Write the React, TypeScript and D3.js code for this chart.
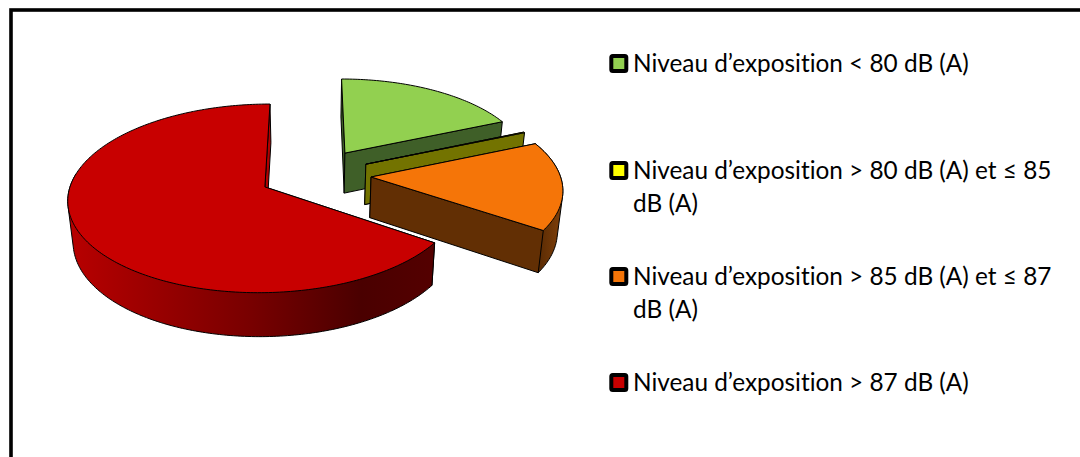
import React from "react";
import * as d3 from "d3";

const categories = [
  ["Niveau d’exposition < 80 dB (A)"],
  ["Niveau d’exposition > 80 dB (A) et ≤ 85", "dB (A)"],
  ["Niveau d’exposition > 85 dB (A) et ≤ 87", "dB (A)"],
  ["Niveau d’exposition > 87 dB (A)"],
];
const shares = [18.5, 0.12, 15.85, 65.53];
const radiusFactors = [0.98, 0.975, 0.995, 1.01];
const topColors = ["#92d050", "#ffff00", "#f57508", "#c80000"];
const sideColors = ["#3f5f28", "#737300", "#622f04", "#a00000"];
const legendBaselines = [71.5, 178.5, 284.5, 390.5];

const W = 1080, H = 457;
const vx = 312, vy = -580, cy0 = 187, cx0 = 265, persp = 0.12, R = 193;
const hubX = 0.26, hubY = -0.139, explode = 0.295;

type Pt = [number, number];
const project = (X: number, Y: number): Pt => {
  const w = 1 - persp * Y;
  return [vx + (cx0 - vx + R * X) / w, vy + (cy0 - vy) / w];
};
const drop = ([x, y]: Pt): Pt => [vx + (x - vx) * 0.978, y + 40 + (y - 152) * 0.028];

const pieGen = d3.pie<number>().sort(null).startAngle(0).endAngle(Math.PI * 2);
const lineGen = d3.line<Pt>();
const poly = (pts: Pt[]) => (lineGen(pts) ?? "") + "Z";

const slices = pieGen(shares).map((a, i) => {
  const mid = (a.startAngle + a.endAngle) / 2;
  const ox = hubX + explode * Math.sin(mid);
  const oy = hubY - explode * Math.cos(mid);
  const r = radiusFactors[i];
  const at = (t: number) => project(ox + r * Math.sin(t), oy - r * Math.cos(t));
  const n = Math.max(2, Math.ceil((a.endAngle - a.startAngle) * 60));
  const angles = d3.range(n + 1).map((k) => a.startAngle + ((a.endAngle - a.startAngle) * k) / n);
  const arc = angles.map(at);
  // only the part of the rim that faces the viewer gets an outer wall
  const front = angles.filter((t) => t < (3 * Math.PI) / 2 + 0.15).map(at);
  const hull = d3.polygonHull([...front, ...front.map(drop)]) as Pt[];
  const tip = project(ox, oy);
  return { i, tip, arc, hull };
});

export default function App() {
  const red = slices[3];
  const redXs = d3.extent(red.arc, (p) => p[0]) as [number, number];
  return (
    <svg
      width={W}
      height={H}
      viewBox={`0 0 ${W} ${H}`}
      style={{ position: "absolute", left: 0, top: 0, display: "block" }}
    >
      <defs>
        <linearGradient id="redSide" gradientUnits="userSpaceOnUse" x1={redXs[0]} x2={redXs[1]} y1={0} y2={0}>
          <stop offset="0" stopColor="#b80000" />
          <stop offset="0.5" stopColor="#780000" />
          <stop offset="0.8" stopColor="#4a0000" />
          <stop offset="1" stopColor="#540000" />
        </linearGradient>
        <linearGradient id="orangeSide" gradientUnits="userSpaceOnUse" x1={540} x2={563} y1={0} y2={0}>
          <stop offset="0" stopColor="#5c2c04" />
          <stop offset="1" stopColor="#81410a" />
        </linearGradient>
      </defs>
      <rect x={0} y={0} width={W} height={H} fill="#fff" />
      <rect x={11} y={10} width={W + 20} height={H + 20} fill="#fff" stroke="#000" strokeWidth={3.6} />

      {slices.map((s) => {
        const first = s.arc[0];
        const last = s.arc[s.arc.length - 1];
        const arcFill = s.i === 3 ? "url(#redSide)" : s.i === 2 ? "url(#orangeSide)" : sideColors[s.i];
        const stroke = { stroke: "#000", strokeWidth: 1, strokeLinejoin: "round" as const };
        return (
          <g key={s.i}>
            <path d={poly([s.tip, first, drop(first), drop(s.tip)])} fill={sideColors[s.i]} {...stroke} />
            {s.i >= 2 && <path d={poly(s.hull)} fill={arcFill} {...stroke} />}
            <path d={poly([s.tip, last, drop(last), drop(s.tip)])} fill={s.i === 3 ? "#b00000" : sideColors[s.i]} {...stroke} />
            <path d={poly([s.tip, ...s.arc])} fill={topColors[s.i]} {...stroke} />
          </g>
        );
      })}

      {categories.map((lines, i) => (
        <g key={i}>
          <rect
            x={611.3}
            y={legendBaselines[i] - 15.5}
            width={15}
            height={15}
            rx={1.5}
            fill={topColors[i]}
            stroke="#000"
            strokeWidth={4}
          />
          {lines.map((t, j) => (
            <text
              key={j}
              x={633}
              y={legendBaselines[i] + j * 33}
              fontFamily="Lato"
              fontSize={24.35}
              fill="#000"
              style={{ fontVariantLigatures: "none" }}
            >
              {t}
            </text>
          ))}
        </g>
      ))}
    </svg>
  );
}
